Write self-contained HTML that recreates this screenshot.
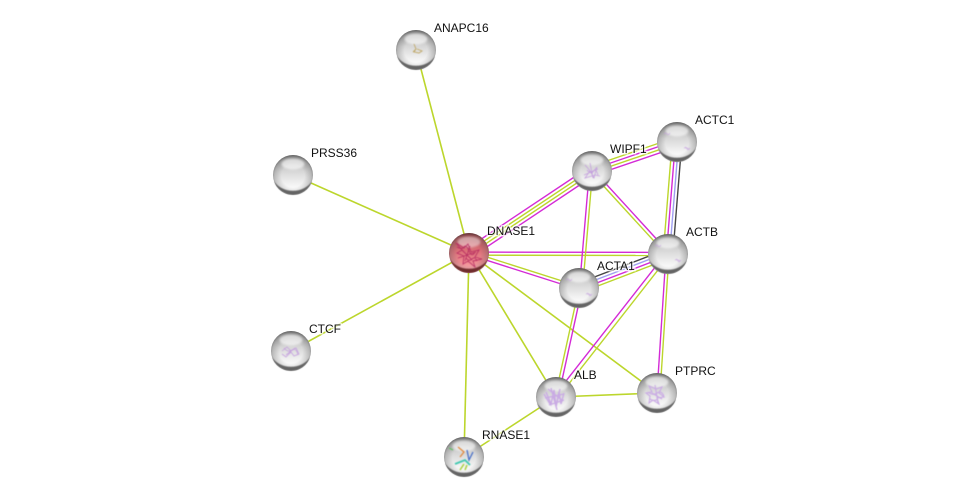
<!DOCTYPE html>
<html><head><meta charset="utf-8"><style>
html,body{margin:0;padding:0;background:#fff;width:975px;height:502px;overflow:hidden}
svg{display:block}
text{font-family:"Liberation Sans",sans-serif;font-size:12px;fill:#111;paint-order:stroke;stroke:rgba(255,255,255,.65);stroke-width:3px}
.g{stroke:#bcd62c}.m{stroke:#d42ad6}.b{stroke:#9f9ff0}.k{stroke:#444}
#e line{stroke-width:1.4;fill:none}
#e line.s{stroke-width:1.6}
.p{fill:none;stroke:#c4a0de;stroke-width:.8}
</style></head><body>
<svg width="975" height="502" viewBox="0 0 975 502" xmlns="http://www.w3.org/2000/svg">
<defs>
<filter id="bl" x="-30%" y="-30%" width="160%" height="160%"><feGaussianBlur stdDeviation="1.1"/></filter>
<filter id="bs" x="-30%" y="-30%" width="160%" height="160%"><feGaussianBlur stdDeviation=".45"/></filter>
<filter id="bp" x="-30%" y="-30%" width="160%" height="160%"><feGaussianBlur stdDeviation=".4"/></filter>
<linearGradient id="s" x1="0" y1="0" x2="0" y2="1"><stop offset="0" stop-color="#8c8c8c"/><stop offset=".12" stop-color="#aeaeae"/><stop offset=".4" stop-color="#d6d6d6"/><stop offset=".72" stop-color="#f2f2f2"/><stop offset=".9" stop-color="#fff"/><stop offset="1" stop-color="#e8e8e8"/></linearGradient>
<linearGradient id="r" x1="0" y1="0" x2="0" y2="1"><stop offset="0" stop-color="#8a2a2e"/><stop offset=".12" stop-color="#b8545a"/><stop offset=".4" stop-color="#d86c74"/><stop offset=".72" stop-color="#ee8a90"/><stop offset=".9" stop-color="#f8a8ac"/><stop offset="1" stop-color="#e08088"/></linearGradient>
<radialGradient id="edge" cx="50%" cy="52%" r="52%"><stop offset="0" stop-color="#555" stop-opacity="0"/><stop offset=".55" stop-color="#555" stop-opacity="0"/><stop offset=".88" stop-color="#555" stop-opacity=".28"/><stop offset="1" stop-color="#444" stop-opacity=".55"/></radialGradient>
<g id="n"><circle r="20" fill="url(#s)"/><circle r="20" fill="url(#edge)"/><ellipse cy="-11" rx="11.5" ry="5.5" fill="#fff" opacity=".62" filter="url(#bl)"/><path d="M-19 6A20 20 0 0 0 19 6A21 17 0 0 1-19 6Z" fill="#4a4a4a" opacity=".8" filter="url(#bs)"/></g>
<g id="nr"><circle r="20" fill="url(#r)"/><circle r="20" fill="url(#edge)"/><ellipse cy="-11" rx="11.5" ry="5.5" fill="#fff" opacity=".45" filter="url(#bl)"/><path d="M-19 6A20 20 0 0 0 19 6A21 17 0 0 1-19 6Z" fill="#5a1518" opacity=".8" filter="url(#bs)"/></g>
<g id="d" filter="url(#bp)" opacity=".75"><path class="p" d="M-13-8q2-2 3 0t3-1M7 6q2-1 3 1t3-1M8 5l4 2"/></g>
</defs>
<g id="e">
<line class="g s" x1="416" y1="50" x2="469" y2="253"/>
<line class="g s" x1="293" y1="175" x2="469" y2="253"/>
<line class="g s" x1="291" y1="351" x2="469" y2="253"/>
<line class="g s" x1="469" y1="253" x2="464" y2="457"/>
<line class="g s" x1="469" y1="253" x2="556" y2="397"/>
<line class="g s" x1="469" y1="253" x2="657" y2="393"/>
<line class="g s" x1="464" y1="457" x2="556" y2="397"/>
<line class="g s" x1="556" y1="397" x2="657" y2="393"/>
<line class="m" x1="466.3" y1="249" x2="589.3" y2="167"/>
<line class="g" x1="468.1" y1="251.7" x2="591.1" y2="169.7"/>
<line class="g" x1="469.9" y1="254.3" x2="592.9" y2="172.3"/>
<line class="m" x1="471.7" y1="257" x2="594.7" y2="175"/>
<line class="g" x1="590.5" y1="166.5" x2="675.5" y2="137.5"/>
<line class="m" x1="591.5" y1="169.5" x2="676.5" y2="140.5"/>
<line class="g" x1="592.5" y1="172.5" x2="677.5" y2="143.5"/>
<line class="m" x1="593.5" y1="175.5" x2="678.5" y2="146.5"/>
<line class="g" x1="672.2" y1="141.6" x2="663.2" y2="253.6"/>
<line class="m" x1="675.4" y1="141.9" x2="666.4" y2="253.9"/>
<line class="b" x1="678.6" y1="142.1" x2="669.6" y2="254.1"/>
<line class="k" x1="681.8" y1="142.4" x2="672.8" y2="254.4"/>
<line class="k" x1="666.3" y1="249.5" x2="577.3" y2="283.5"/>
<line class="b" x1="667.4" y1="252.5" x2="578.4" y2="286.5"/>
<line class="m" x1="668.6" y1="255.5" x2="579.6" y2="289.5"/>
<line class="g" x1="669.7" y1="258.5" x2="580.7" y2="292.5"/>
<line class="m" x1="469" y1="252.1" x2="668" y2="252.4"/>
<line class="g" x1="469" y1="255.2" x2="668" y2="255.5"/>
<line class="g" x1="469.5" y1="251.5" x2="579.5" y2="286.5"/>
<line class="m" x1="468.5" y1="254.5" x2="578.5" y2="289.5"/>
<line class="m" x1="593.2" y1="169.9" x2="669.2" y2="252.9"/>
<line class="g" x1="590.8" y1="172.1" x2="666.8" y2="255.1"/>
<line class="m" x1="589.4" y1="171" x2="579.4" y2="288"/>
<line class="g" x1="592.6" y1="171" x2="582.6" y2="288"/>
<line class="g" x1="579" y1="288" x2="555.1" y2="397"/>
<line class="m" x1="582.2" y1="288" x2="558.3" y2="397"/>
<line class="m" x1="666.4" y1="252.8" x2="554.4" y2="395.8"/>
<line class="g" x1="669.6" y1="255.2" x2="557.6" y2="398.2"/>
<line class="m" x1="666" y1="254" x2="657" y2="393"/>
<line class="g" x1="669" y1="254" x2="660" y2="393"/>
</g>
<use href="#n" x="416" y="50"/>
<path d="M414 44l2 5-2 3 5 1 3-2-5-2M413 52l3-3" fill="none" stroke="#c0a868" stroke-width=".9" filter="url(#bp)"/>
<use href="#n" x="293" y="175"/>
<use href="#nr" x="469" y="253"/>
<path d="M456 243l8 5 4-4 3 8 8-2-4 7 7 2-9 2 2 6-7-6-5 3 1-8-7-3 5-3zM462 250l10 10M470 246l-5 15M458 258l18-6M457 247q5 3 7 0t5 4 6 1M466 258q3 4 6 1t5 2" fill="none" stroke="#b4285f" stroke-width=".9" opacity=".85" filter="url(#bp)"/>
<use href="#n" x="592" y="171"/>
<path class="p" filter="url(#bp)" d="M585 165l7 8 5-6-3 11-4-7-5 7 10-3 5 1M590 163l3 15M584 175l14-6M587 170q3 4 6 1t5 4"/>
<use href="#n" x="677" y="142"/><use href="#d" x="677" y="142"/>
<use href="#n" x="668" y="254"/><use href="#d" x="668" y="254"/>
<use href="#n" x="579" y="288"/><use href="#d" x="579" y="288"/>
<use href="#n" x="291" y="351"/>
<path class="p" filter="url(#bp)" d="M282 351l5-4 4 4 5-3 3 6-5 2-3-4-5 5-4-3M286 355l9-7M284 348q4 5 8 2t6 5"/>
<use href="#n" x="556" y="397"/>
<path class="p" style="stroke-width:1.4;stroke:#c9aae4" filter="url(#bp)" d="M546 392l5 12 3-14 2 16 3-14 2 12 3-11M545 398l19-4M549 405l15-5M551 388l6 22M548 389l15 12M544 394l6 10M560 389l-4 18"/>
<use href="#n" x="657" y="393"/>
<path class="p" style="stroke-width:1.1;stroke:#c9aae4" filter="url(#bp)" d="M649 386l7 3 6-2-3 6 5 4-7 1 2 6-6-4-4 3 1-7-4-3 6-1zM652 393l10 6M655 385l3 18M648 392q5 4 9 1t7 3M650 399q4 3 8 0"/>
<use href="#n" x="464" y="457"/>
<g filter="url(#bp)" fill="none">
<path d="M458 447l6 5-4 5" stroke="#e08a40" stroke-width="1.3"/>
<path d="M467 450l2 10 4-8" stroke="#4a70c8" stroke-width="1.3"/>
<path d="M455 464l10-4 5 5" stroke="#40c8b0" stroke-width="1.8"/>
<path d="M460 470l4-6M465 470l2-5" stroke="#a8d040" stroke-width="1.5"/>
<path d="M449 448l4 2" stroke="#60c060" stroke-width="1.2"/>
</g>
<text x="434" y="32">ANAPC16</text>
<text x="311" y="157">PRSS36</text>
<text x="487" y="235">DNASE1</text>
<text x="610" y="153">WIPF1</text>
<text x="695" y="124">ACTC1</text>
<text x="686" y="236">ACTB</text>
<text x="597" y="270">ACTA1</text>
<text x="309" y="333">CTCF</text>
<text x="574" y="379">ALB</text>
<text x="675" y="375">PTPRC</text>
<text x="482" y="439">RNASE1</text>
</svg>
</body></html>
